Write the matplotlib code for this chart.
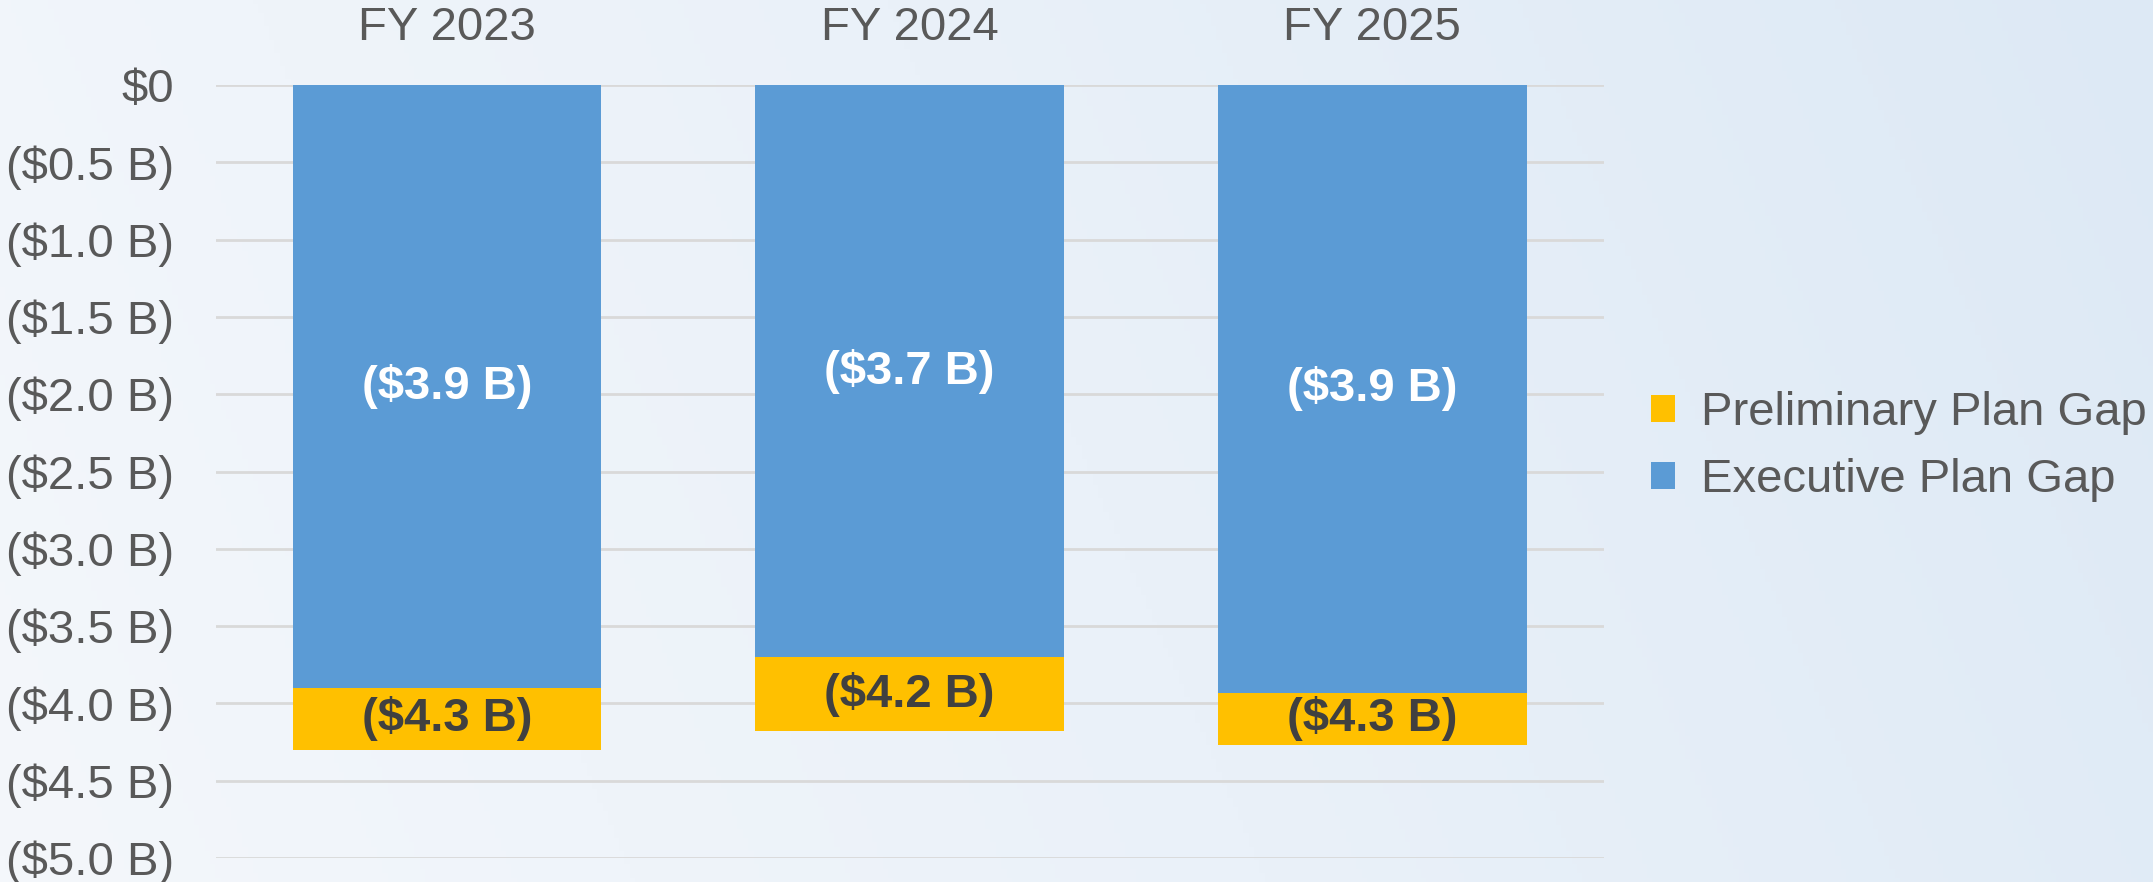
import numpy as np
import matplotlib
matplotlib.use("Agg")
import matplotlib.pyplot as plt
from matplotlib.patches import Patch
from matplotlib.colors import LinearSegmentedColormap

plt.rcParams['font.family'] = ['Liberation Sans', 'DejaVu Sans']

categories = ["FY 2023", "FY 2024", "FY 2025"]
executive_gap = [-3.90, -3.70, -3.93]        # $B
preliminary_total = [-4.30, -4.18, -4.27]    # $B (total gap)
executive_labels = ["($3.9 B)", "($3.7 B)", "($3.9 B)"]
preliminary_labels = ["($4.3 B)", "($4.2 B)", "($4.3 B)"]
y_ticks = [0, -0.5, -1.0, -1.5, -2.0, -2.5, -3.0, -3.5, -4.0, -4.5, -5.0]
y_tick_labels = ["$0", "($0.5 B)", "($1.0 B)", "($1.5 B)", "($2.0 B)", "($2.5 B)",
                 "($3.0 B)", "($3.5 B)", "($4.0 B)", "($4.5 B)", "($5.0 B)"]

BLUE = "#5B9BD5"
YELLOW = "#FFC000"
GREY = "#595959"

fig = plt.figure(figsize=(21.53, 8.82), dpi=100)

# background gradient
bg = fig.add_axes([0, 0, 1, 1], zorder=-10)
cmap = LinearSegmentedColormap.from_list("bg", ["#F4F7FB", "#EAF1F9", "#DDE9F5"])
xx, yy = np.meshgrid(np.linspace(0, 1, 400), np.linspace(0, 1, 200))
grad = 0.85 * xx + 0.15 * yy
bg.imshow(grad, cmap=cmap, aspect='auto', extent=[0, 1, 0, 1], origin='lower')
bg.set_axis_off()

ax = fig.add_axes([0.1001, 0.0272, 0.6448, 0.8764])
ax.set_facecolor("none")

x = np.arange(len(categories))
prelim_seg = [p - e for p, e in zip(preliminary_total, executive_gap)]
ax.bar(x, executive_gap, width=0.667, color=BLUE, zorder=3)
ax.bar(x, prelim_seg, bottom=executive_gap, width=0.667, color=YELLOW, zorder=3)

for i in range(len(categories)):
    ax.text(x[i], executive_gap[i] / 2, executive_labels[i], ha='center', va='center',
            color='white', fontsize=34, fontweight='bold', zorder=5)
    ax.text(x[i], (executive_gap[i] + preliminary_total[i]) / 2, preliminary_labels[i],
            ha='center', va='center', color='#404040', fontsize=34, fontweight='bold', zorder=5)

ax.set_xlim(-0.5, 2.5)
ax.set_ylim(-5.0, 0)
ax.set_yticks(y_ticks)
ax.set_yticklabels(y_tick_labels)
ax.tick_params(axis='y', length=0, pad=30, labelsize=34, labelcolor=GREY)
ax.xaxis.tick_top()
ax.set_xticks(x)
ax.set_xticklabels(categories)
ax.tick_params(axis='x', length=0, pad=25, labelsize=34, labelcolor=GREY)
ax.grid(axis='y', color='#D9D9D9', linewidth=2, zorder=0)
for s in ax.spines.values():
    s.set_visible(False)

handles = [Patch(facecolor=YELLOW, label="Preliminary Plan Gap"),
           Patch(facecolor=BLUE, label="Executive Plan Gap")]
fig.legend(handles=handles, loc='center left', bbox_to_anchor=(0.767, 0.4936),
           frameon=False, fontsize=34, handlelength=0.5, handleheight=0.5,
           handletextpad=0.55, labelspacing=0.5, borderpad=0, borderaxespad=0,
           labelcolor=GREY)

fig.savefig("out.png", dpi=100)
